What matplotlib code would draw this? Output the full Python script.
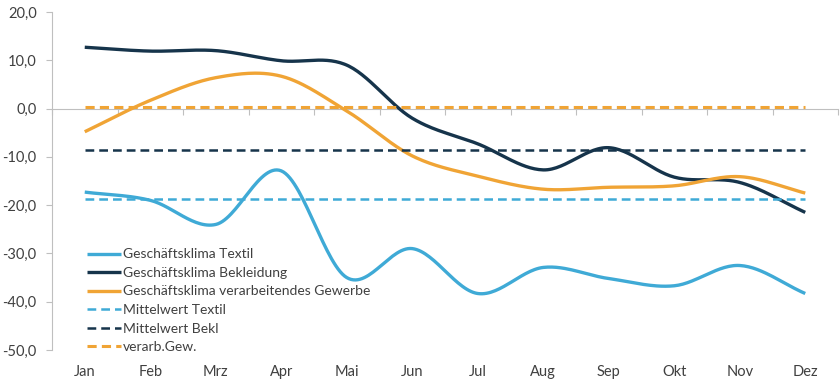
import numpy as np
import matplotlib
matplotlib.use('Agg')
import matplotlib.pyplot as plt
from matplotlib.ticker import FuncFormatter

# Daten
monate = ['Jan', 'Feb', 'Mrz', 'Apr', 'Mai', 'Jun', 'Jul', 'Aug', 'Sep', 'Okt', 'Nov', 'Dez']
textil = [-17.3, -19.0, -24.0, -12.9, -35.0, -29.0, -38.3, -32.9, -35.2, -36.7, -32.5, -38.3]
bekleidung = [12.7, 11.9, 12.0, 9.9, 9.0, -2.0, -7.3, -12.7, -8.1, -14.2, -15.3, -21.5]
gewerbe = [-4.8, 1.7, 6.4, 6.7, -0.5, -9.8, -14.0, -16.7, -16.3, -16.0, -14.1, -17.5]
mw_textil = -18.7
mw_bekl = -8.5
mw_gewerbe = 0.3

c_textil = '#3FAAD6'
c_bekl = '#16344B'
c_gew = '#F0A435'
grau = '#404040'

plt.rcParams['font.family'] = ['Lato', 'DejaVu Sans']


def glatt(y, n=30):
    # Catmull-Rom Glättung wie in Excel
    y = np.asarray(y, dtype=float)
    x = np.arange(len(y), dtype=float)
    p = np.concatenate([[2 * y[0] - y[1]], y, [2 * y[-1] - y[-2]]])
    xs, ys = [], []
    for i in range(len(y) - 1):
        t = np.linspace(0, 1, n, endpoint=False)
        p0, p1, p2, p3 = p[i], p[i + 1], p[i + 2], p[i + 3]
        yy = 0.5 * ((2 * p1) + (-p0 + p2) * t + (2 * p0 - 5 * p1 + 4 * p2 - p3) * t ** 2
                    + (-p0 + 3 * p1 - 3 * p2 + p3) * t ** 3)
        xs.append(x[i] + t)
        ys.append(yy)
    xs.append([x[-1]])
    ys.append([y[-1]])
    return np.concatenate(xs), np.concatenate(ys)


fig = plt.figure(figsize=(8.4, 3.8), dpi=100)
ax = fig.add_axes([52 / 840, 30 / 380, 786 / 840, 338 / 380])

xi = np.arange(len(monate))
x, y = glatt(textil)
ax.plot(x, y, color=c_textil, lw=2.4, label='Geschäftsklima Textil', solid_capstyle='butt')
x, y = glatt(bekleidung)
ax.plot(x, y, color=c_bekl, lw=2.4, label='Geschäftsklima Bekleidung', solid_capstyle='butt')
x, y = glatt(gewerbe)
ax.plot(x, y, color=c_gew, lw=2.4, label='Geschäftsklima verarbeitendes Gewerbe', solid_capstyle='butt')

ax.plot(xi, [mw_textil] * len(xi), color=c_textil, lw=1.8, ls=(0, (3.5, 2)), label='Mittelwert Textil')
ax.plot(xi, [mw_bekl] * len(xi), color=c_bekl, lw=1.8, ls=(0, (3.5, 2)), label='Mittelwert Bekl')
ax.plot(xi, [mw_gewerbe] * len(xi), color=c_gew, lw=2.2, ls=(0, (3, 1.7)), label='verarb.Gew.')

ax.set_xlim(-0.5, 11.5)
ax.set_ylim(-50, 20)
ax.set_yticks(np.arange(-50, 21, 10))
ax.yaxis.set_major_formatter(FuncFormatter(lambda v, p: f'{v:.1f}'.replace('.', ',')))
ax.set_xticks(xi)
ax.set_xticklabels(monate)

for s in ['top', 'right', 'bottom']:
    ax.spines[s].set_visible(False)
ax.spines['left'].set_color('#BFBFBF')
ax.tick_params(axis='y', colors='#BFBFBF', labelcolor=grau, labelsize=10.5, length=4, pad=7)
ax.tick_params(axis='x', length=0, labelcolor=grau, labelsize=10.5, pad=11)

# Nulllinie mit Teilstrichen
sec = ax.secondary_xaxis(0, transform=ax.transData)
sec.set_xticks(np.arange(-0.5, 12, 1.0))
sec.set_xticklabels([])
sec.spines['bottom'].set_color('#BFBFBF')
sec.tick_params(axis='x', colors='#BFBFBF', length=4, direction='out')

leg = ax.legend(loc='lower left', bbox_to_anchor=(0.044, -0.009), frameon=False,
                fontsize=10, handlelength=2.45, handletextpad=0.15, labelspacing=0.47,
                borderpad=0, borderaxespad=0)
for t in leg.get_texts():
    t.set_color(grau)

fig.savefig('out.png', dpi=100)
